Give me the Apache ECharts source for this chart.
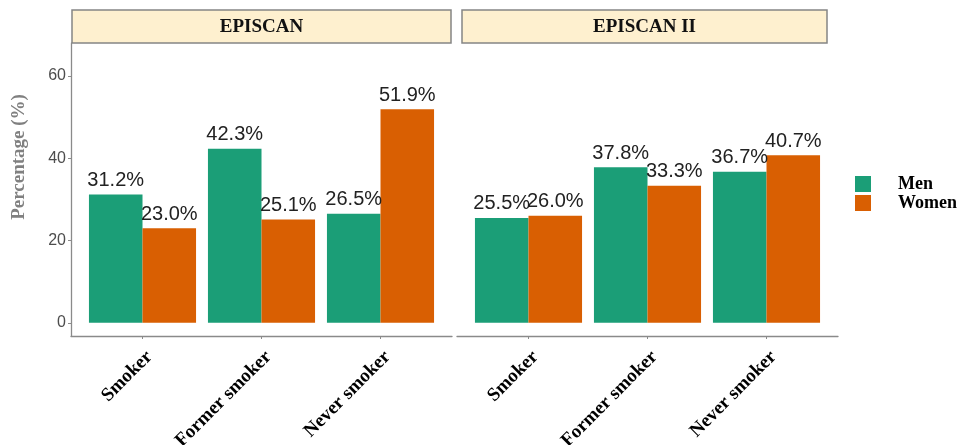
<!DOCTYPE html>
<html>
<head>
<meta charset="utf-8">
<script src="https://cdn.jsdelivr.net/npm/echarts@6/dist/echarts.min.js"></script>
<style>html,body{margin:0;padding:0;background:#fff;}#c{width:960px;height:445px;}</style>
</head>
<body>
<div id="c"></div>
<script>
var categories = ['Smoker', 'Former smoker', 'Never smoker'];
var panels = ['EPISCAN', 'EPISCAN II'];
var seriesNames = ['Men', 'Women'];
var episcanMen = [31.2, 42.3, 26.5];
var episcanWomen = [23.0, 25.1, 51.9];
var episcan2Men = [25.5, 37.8, 36.7];
var episcan2Women = [26.0, 33.3, 40.7];
var yTicks = [0, 20, 40, 60];

var colors = ['#1B9E77', '#D95F02'];
var yMin = -3.2, yMax = 68;
var axisGray = '#8a8a8a';
var serif = '"Liberation Serif", "DejaVu Serif", serif';
var sans = '"Liberation Sans", Arial, sans-serif';

var chart = echarts.init(document.getElementById('c'));

function frameX(idx) {
  return { gridIndex: idx, type: 'value', min: 0, max: 1,
    axisLine: { show: true, onZero: false, lineStyle: { color: axisGray, width: 1.3 } },
    axisTick: { show: false }, axisLabel: { show: false }, splitLine: { show: false } };
}
function dataX(idx) {
  return { gridIndex: idx, type: 'category', data: categories,
    axisLine: { show: false, onZero: false },
    axisTick: { show: true, alignWithLabel: true, length: 3, lineStyle: { color: axisGray } },
    axisLabel: { show: false },
    splitLine: { show: false } };
}
function labelX(idx) {
  return { gridIndex: idx, type: 'category', data: categories,
    axisLine: { show: false, onZero: false },
    axisTick: { show: false },
    axisLabel: { rotate: 45, margin: 18, fontFamily: serif, fontWeight: 'bold', fontSize: 19, color: '#000' },
    splitLine: { show: false } };
}
function hiddenY(idx) {
  return { gridIndex: idx, type: 'value', min: yMin, max: yMax, show: false, splitLine: { show: false } };
}
function barSeries(name, data, xi, ci) {
  return { name: name, type: 'bar', xAxisIndex: xi, yAxisIndex: xi, data: data,
    barGap: '0%', barCategoryGap: '10%',
    itemStyle: { color: colors[ci] },
    label: { show: true, position: 'top', distance: 4, fontFamily: sans, fontSize: 20, color: '#222',
      formatter: function (p) { return p.value.toFixed(1) + '%'; } } };
}
function mkGrid(l, r) {
  return { left: l, right: 960 - r, top: 43, bottom: 445 - 336, containLabel: false, outerBoundsMode: 'none' };
}

var option = {
  animation: false,
  backgroundColor: '#fff',
  grid: [mkGrid(71, 452), mkGrid(83, 440), mkGrid(457, 838), mkGrid(469, 826), mkGrid(90, 447), mkGrid(476, 833)],
  xAxis: [frameX(0), dataX(1), frameX(2), dataX(3), labelX(4), labelX(5)],
  yAxis: [
    { gridIndex: 0, type: 'value', min: yMin, max: yMax,
      axisLine: { show: true, onZero: false, lineStyle: { color: axisGray, width: 1.3 } },
      axisTick: { show: true, length: 3, customValues: yTicks, lineStyle: { color: axisGray } },
      axisLabel: { customValues: yTicks, fontFamily: sans, fontSize: 16, color: '#4d4d4d', margin: 5 },
      splitLine: { show: false } },
    hiddenY(1),
    { gridIndex: 2, type: 'value', min: yMin, max: yMax, show: false, splitLine: { show: false } },
    hiddenY(3),
    hiddenY(4),
    hiddenY(5)
  ],
  legend: {
    orient: 'vertical', left: 855, top: 175, padding: 0, itemWidth: 16, itemHeight: 16, itemGap: 1,
    icon: 'rect', data: seriesNames,
    textStyle: { fontFamily: serif, fontWeight: 'bold', fontSize: 18, color: '#000', padding: [0, 0, 0, 22] }
  },
  series: [
    barSeries(seriesNames[0], episcanMen, 1, 0),
    barSeries(seriesNames[1], episcanWomen, 1, 1),
    barSeries(seriesNames[0], episcan2Men, 3, 0),
    barSeries(seriesNames[1], episcan2Women, 3, 1)
  ],
  graphic: [
    { type: 'rect', shape: { x: 72, y: 10, width: 379, height: 33 },
      style: { fill: '#FEF0CF', stroke: '#858585', lineWidth: 1.5 } },
    { type: 'text', x: 261.5, y: 27, style: { text: panels[0], fontFamily: serif, fontWeight: 'bold', fontSize: 19, fill: '#111', align: 'center', verticalAlign: 'middle' } },
    { type: 'rect', shape: { x: 462, y: 10, width: 365, height: 33 },
      style: { fill: '#FEF0CF', stroke: '#858585', lineWidth: 1.5 } },
    { type: 'text', x: 644.5, y: 27, style: { text: panels[1], fontFamily: serif, fontWeight: 'bold', fontSize: 19, fill: '#111', align: 'center', verticalAlign: 'middle' } },
    { type: 'text', x: 19, y: 157, rotation: Math.PI / 2,
      style: { text: 'Percentage (%)', fontFamily: serif, fontWeight: 'bold', fontSize: 19, fill: '#808080', align: 'center', verticalAlign: 'middle' } }
  ]
};
chart.setOption(option);
</script>
</body>
</html>
